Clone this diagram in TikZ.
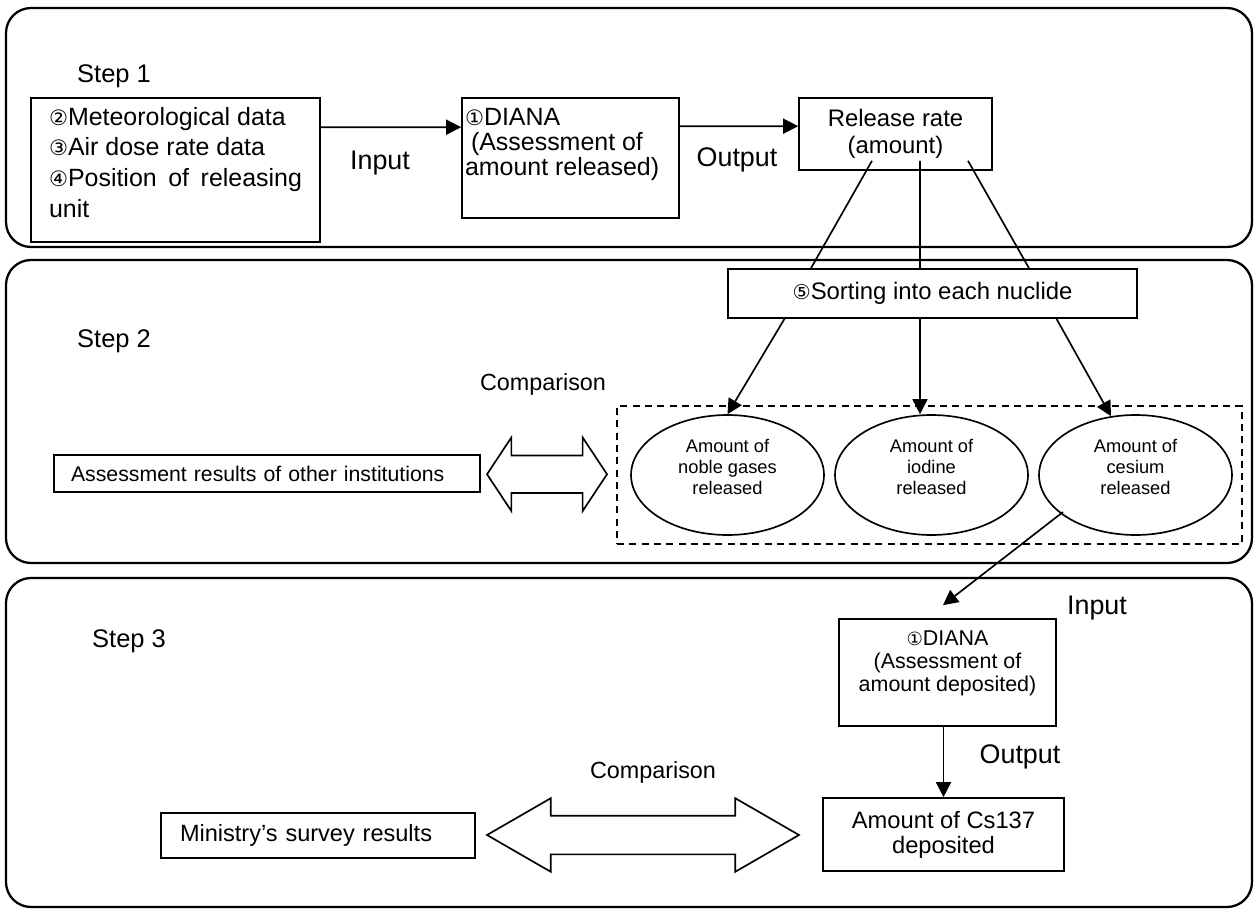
\documentclass[tikz,border=0pt]{standalone}
\usepackage{fontspec}
\setmainfont{Liberation Sans}
\newfontfamily\circfont[Scale=0.85]{DejaVu Sans}
\newcommand{\cnum}[1]{{\circfont #1}}
\usepackage{tikz}
\usetikzlibrary{shapes,shapes.arrows,positioning,calc,arrows.meta}

\tikzset{
  panel/.style={draw, line width=1.3pt, rounded corners=0.5cm},
  inbox/.style={draw, line width=0.95pt, inner sep=0pt},
  oval/.style={draw, ellipse, line width=0.95pt, inner sep=0pt,
               minimum width=3.86cm, minimum height=2.4cm,
               font=\fontsize{10.4}{12.1}\selectfont},
  arr/.style={-{Triangle[length=0.3cm,width=0.3cm]}, line width=0.95pt},
  cmp/.style={draw, double arrow, line width=0.95pt, inner xsep=0pt},
  steplab/.style={anchor=base west, font=\fontsize{14.5}{17}\selectfont},
  iolab/.style={font=\fontsize{15.3}{18}\selectfont},
  cmplab/.style={font=\fontsize{13.3}{16}\selectfont},
}

\begin{document}
\begin{tikzpicture}[x=0.02cm,y=-0.02cm]
\useasboundingbox (0,0) rectangle (1255,909);

% the three steps
\draw[panel] (6,8) rectangle (1252,247);
\draw[panel] (6,260) rectangle (1252,563);
\draw[panel] (6,578) rectangle (1252,907);

\node[steplab] (step1) at (71,83) {Step 1};
\node[steplab] (step2) at (71,347) {Step 2};
\node[steplab] (step3) at (86,647) {Step 3};

% step 1
\node[inbox, inner xsep=0.36cm, font=\fontsize{14.2}{17.6}\selectfont] (data) at (175.5,170)
  {\parbox[c][2.88cm][t]{5.06cm}{\raggedright\rule{0pt}{0.54cm}\cnum{②}Meteorological data\\
   \cnum{③}Air dose rate data\\
   \makebox[5.06cm][s]{\cnum{④}Position of releasing}\\
   unit}};
\node[inbox, inner xsep=0.06cm, font=\fontsize{14.2}{14.5}\selectfont] (diana1) at (570.5,158)
  {\parbox[c][2.4cm][t]{4.22cm}{\raggedright\rule{0pt}{0.54cm}\cnum{①}DIANA\\
   \hspace*{0.12cm}(Assessment of\\amount released)}};
\node[inbox, minimum width=3.86cm, minimum height=1.44cm, align=center,
      font=\fontsize{13.6}{15.3}\selectfont] (rel) at (895.5,134) {Release rate\\(amount)};

\node[iolab] (in1) at (380,163) {Input};
\node[iolab] (out1) at (737,160) {Output};

\draw[arr] ([yshift=-0.6cm]data.north east) -- ([yshift=-0.6cm]diana1.north west);
\draw[arr] ([yshift=-0.58cm]diana1.north east) -- ([yshift=-0.58cm]rel.north west);

% step 2
\node[inbox, minimum width=8.18cm, minimum height=0.98cm,
      font=\fontsize{13.6}{16}\selectfont] (sort) at (932.5,293.5) {\cnum{⑤}Sorting into each nuclide};

\draw[line width=0.95pt] ($(rel.south)+(-23.5,-10)$) -- ($(sort.north)+(-121.5,0)$);
\draw[line width=0.95pt] ($(rel.south)+(24.5,-10)$) -- ($(sort.north)+(-12.5,0)$);
\draw[line width=0.95pt] ($(rel.south)+(72.5,-10)$) -- ($(sort.north)+(96.5,0)$);

\node[draw, dashed, dash pattern=on 4pt off 3pt, line width=0.95pt,
      minimum width=12.5cm, minimum height=2.76cm] (grp) at (929.5,475) {};

\node[oval] (noble) at (727.5,475)
  {\parbox[c][1.6cm][t]{2.6cm}{\centering\rule{0pt}{0.34cm}Amount of\\noble gases\\released}};
\node[oval] (iod) at (931.5,475)
  {\parbox[c][1.6cm][t]{2.6cm}{\centering\rule{0pt}{0.34cm}Amount of\\iodine\\released}};
\node[oval] (cs) at (1135.5,475)
  {\parbox[c][1.6cm][t]{2.6cm}{\centering\rule{0pt}{0.34cm}Amount of\\cesium\\released}};

\draw[arr] ($(sort.south)+(-148,0)$) -- (noble.north);
\draw[arr] ($(sort.south)+(-12.5,0)$) -- ($(iod.north)+(-11.5,0)$);
\draw[arr] ($(sort.south)+(124,0)$) -- ($(cs.north)+(-24.5,2)$);

\node[inbox, text width=7.84cm, inner xsep=0.34cm, minimum height=0.74cm, align=left,
      font=\fontsize{12.1}{14}\selectfont] (assess) at (267,473.5) {Assessment results of other institutions};

\node[cmp, inner ysep=0.36cm, minimum height=2.4cm, double arrow head extend=0.36cm,
      double arrow tip angle=113] (cmp2) at ($(assess.east)!0.5!(grp.west)+(-1.5,0)$) {};
\node[cmplab] (cmplab2) at (543,384) {Comparison};

% step 3
\node[inbox, font=\fontsize{12.2}{13.3}\selectfont] (dia2) at (947.5,672.5)
  {\parbox[c][2.14cm][t]{4.34cm}{\centering\rule{0pt}{0.52cm}\cnum{①}DIANA\\
   (Assessment of\\amount deposited)}};
\node[inbox, minimum width=4.82cm, minimum height=1.46cm, align=center,
      font=\fontsize{13.5}{14.2}\selectfont] (csb) at (943.5,834.5) {Amount of Cs137\\deposited};
\node[inbox, text width=5.52cm, inner xsep=0.38cm, minimum height=0.9cm, align=left,
      font=\fontsize{13.4}{16}\selectfont] (ministry) at (318,835.5) {Ministry’s survey results};

\draw[arr] ($(cs.center)+(-72.5,37)$) -- ($(dia2.north)+(-4.5,-13)$);
\draw[arr] (dia2.south -| csb.north) -- (csb.north);

\node[iolab] (in2) at (1097,608) {Input};
\node[iolab] (out2) at (1020,757) {Output};

\node[cmp, inner ysep=0.37cm, minimum height=6.24cm, double arrow head extend=0.35cm,
      double arrow tip angle=60] (cmp3) at ($(ministry.east)!0.5!(csb.west)+(-6,0)$) {};
\node[cmplab] (cmplab3) at (653,772) {Comparison};

\end{tikzpicture}
\end{document}
